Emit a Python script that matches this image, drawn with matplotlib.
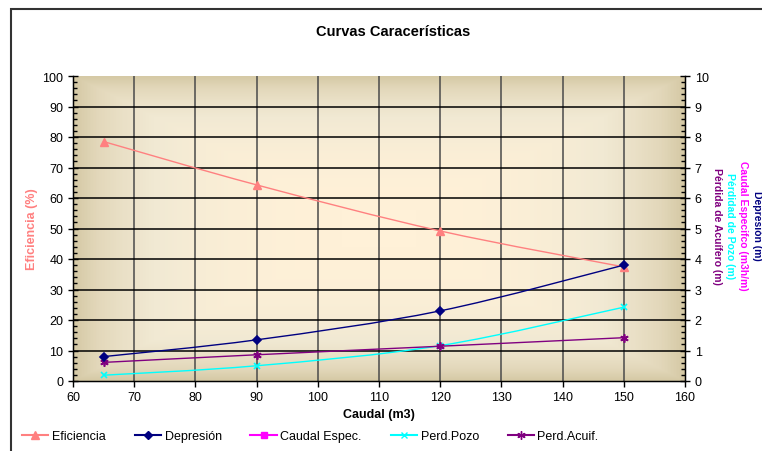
import numpy as np
import matplotlib.pyplot as plt
from matplotlib.path import Path
from matplotlib.patches import PathPatch, Rectangle
from matplotlib.lines import Line2D
from matplotlib.colors import LinearSegmentedColormap

plt.rcParams['font.family'] = ['Liberation Sans', 'DejaVu Sans']

# Datos del ensayo de bombeo
caudal = [65, 90, 120, 150]
eficiencia = [78.5, 64.3, 49.2, 37.4]        # %  (eje izquierdo)
depresion = [0.80, 1.35, 2.30, 3.80]          # m  (eje derecho)
caudal_espec = [81.3, 66.7, 52.2, 39.5]       # m3h/m (fuera de escala)
perd_pozo = [0.19, 0.50, 1.16, 2.42]          # m
perd_acuif = [0.61, 0.86, 1.14, 1.42]         # m

x_ticks = list(range(60, 161, 10))
y1_ticks = list(range(0, 101, 10))
y2_ticks = list(range(0, 11))


def smooth_path(xs, ys):
    # bezier suavizado tipo Excel (Catmull-Rom)
    pts = np.column_stack([xs, ys]).astype(float)
    verts = [pts[0]]
    codes = [Path.MOVETO]
    n = len(pts)
    for i in range(n - 1):
        p0 = pts[max(i - 1, 0)]
        p1 = pts[i]
        p2 = pts[i + 1]
        p3 = pts[min(i + 2, n - 1)]
        c1 = p1 + (p2 - p0) / 6.0
        c2 = p2 - (p3 - p1) / 6.0
        verts += [c1, c2, p2]
        codes += [Path.CURVE4] * 3
    return Path(verts, codes)


fig = plt.figure(figsize=(7.62, 4.52), dpi=100)
ax = fig.add_axes([73 / 762, 1 - 382 / 452, 612 / 762, 305 / 452])
ax2 = ax.twinx()

# fondo degradado rectangular desde el centro
gx = np.linspace(-1, 1, 400)
gy = np.linspace(-1, 1, 300)
GX, GY = np.meshgrid(gx, gy)
grad = np.maximum(np.abs(GX), np.abs(GY)) ** 2.6
cmap = LinearSegmentedColormap.from_list(
    'fondo', [(0, '#FFF1D8'), (0.45, '#F1E9D3'), (0.8, '#E3D8BB'), (1, '#D5C9A5')])
ax.imshow(grad, extent=[60, 160, 0, 100], aspect='auto', cmap=cmap,
          interpolation='nearest', zorder=0)

ax.set_xlim(60, 160)
ax.set_ylim(0, 100)
ax2.set_ylim(0, 10)

ax.set_xticks(x_ticks)
ax.set_yticks(y1_ticks)
ax2.set_yticks(y2_ticks)
ax.set_yticks(np.arange(0, 101, 2), minor=True)
ax2.set_yticks(np.arange(0, 10.01, 0.2), minor=True)

for xv in x_ticks[1:-1]:
    ax.axvline(xv, color='#4a4a4a', lw=1.1, zorder=1)
for yv in y1_ticks[1:-1]:
    ax.axhline(yv, color='black', lw=1.1, zorder=1)

ax.spines['top'].set_visible(False)
ax2.spines['top'].set_visible(False)
for s in ['left', 'bottom']:
    ax.spines[s].set_linewidth(1.0)
ax2.spines['right'].set_linewidth(1.0)

ax.tick_params(axis='y', which='major', direction='inout', length=7, width=1, labelsize=9)
ax.tick_params(axis='y', which='minor', direction='in', length=3, width=1)
ax.tick_params(axis='x', which='major', direction='out', length=4, width=1, labelsize=9)
ax2.tick_params(axis='y', which='major', direction='inout', length=7, width=1, labelsize=9)
ax2.tick_params(axis='y', which='minor', direction='in', length=3, width=1)

# Eficiencia (eje izquierdo)
ax.add_patch(PathPatch(smooth_path(caudal, eficiencia), fill=False,
                       edgecolor='#FF8080', lw=1.0, zorder=3))
ax.plot(caudal, eficiencia, ls='none', marker='^', ms=5.5, color='#FF8080', zorder=4)

# series del eje derecho
series = [
    (caudal_espec, '#FF00FF', 's', 4.5),
    (perd_pozo, '#00FFFF', 'x', 5),
    (perd_acuif, '#800080', (6, 2, 0), 6),
    (depresion, '#000080', 'D', 4.2),
]
for vals, col, mk, ms in series:
    ax2.add_patch(PathPatch(smooth_path(caudal, vals), fill=False,
                            edgecolor=col, lw=1.0, zorder=3))
    ax2.plot(caudal, vals, ls='none', marker=mk, ms=ms, color=col,
             markeredgewidth=1.2, zorder=4)

ax.set_xlabel('Caudal (m3)', fontsize=9, fontweight='bold', labelpad=3)
ax.set_ylabel('Eficiencia (%)', fontsize=9, fontweight='bold', color='#FF8080', labelpad=3)

fig.text(393 / 762, 1 - 32 / 452, 'Curvas Caracerísticas', ha='center', va='center',
         fontsize=10.5, fontweight='bold')

right_labels = [
    (757, 'Depresión (m)', '#000080'),
    (743, 'Caudal Especifco (m3h/m)', '#FF00FF'),
    (730, 'Pérdidad de Pozo (m)', '#00FFFF'),
    (717, 'Pérdida de Acuífero (m)', '#800080'),
]
for xp, txt, col in right_labels:
    fig.text(xp / 762, 1 - 226 / 452, txt, rotation=-90, ha='center', va='center',
             fontsize=7.5, fontweight='bold', color=col)

# marco del grafico
fig.add_artist(Rectangle((11 / 762, -0.1), 1.2, 1 - 9.5 / 452 + 0.1,
                         transform=fig.transFigure, fill=False,
                         edgecolor='#333333', lw=1.5))

handles = [
    Line2D([], [], color='#FF8080', marker='^', ms=5.5),
    Line2D([], [], color='#000080', marker='D', ms=4),
    Line2D([], [], color='#FF00FF', marker='s', ms=4),
    Line2D([], [], color='#00FFFF', marker='x', ms=5),
    Line2D([], [], color='#800080', marker=(6, 2, 0), ms=6),
]
labels = ['Eficiencia', 'Depresión', 'Caudal Espec.', 'Perd.Pozo', 'Perd.Acuif.']
fig.legend(handles, labels, loc='center left', bbox_to_anchor=(22 / 762, 1 - 437 / 452),
           ncol=5, frameon=False, fontsize=9, handlelength=2.1, handletextpad=0.3,
           columnspacing=2.3, borderaxespad=0, borderpad=0)

fig.savefig('out.png', dpi=100)
